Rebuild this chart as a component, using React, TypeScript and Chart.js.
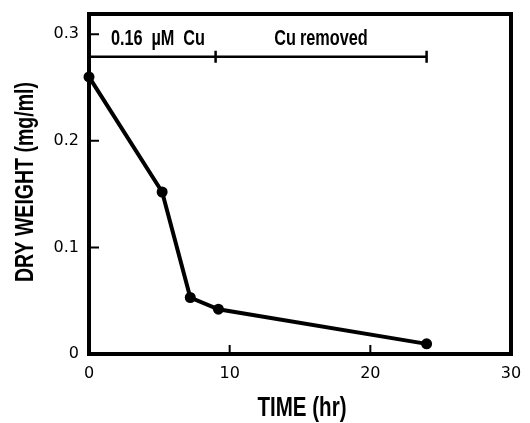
import React, { useEffect, useRef } from 'react';
import { Chart, registerables } from 'chart.js';

Chart.register(...registerables);

// ---- data ----
const TIME_HR = [0, 5.2, 7.2, 9.2, 24];
const DRY_WEIGHT = [0.26, 0.152, 0.053, 0.042, 0.0095];
const X_TICKS = [0, 10, 20, 30];
const Y_TICKS = [0, 0.1, 0.2, 0.3];
const Y_TICK_LABELS = ['0', '0.1', '0.2', '0.3'];
const PHASE_BOUNDS = [0, 9, 24];
const PHASE_LABELS = ['0.16 \u00b5M Cu', 'Cu removed'];
const PHASE_LABEL_X = [4.9, 16.49];
const PHASE_BAR_Y = 0.279;
const PHASE_LABEL_Y = 0.2953;
const X_TITLE = 'TIME (hr)';
const Y_TITLE = 'DRY WEIGHT (mg/ml)';

const BOLD_FAMILY = "'Liberation Sans', Arial, sans-serif";
const TICK_FAMILY = "'DejaVu Sans', sans-serif";

function drawCondensed(
  ctx: CanvasRenderingContext2D,
  text: string,
  cx: number,
  cy: number,
  size: number,
  targetWidth: number,
  rotate: boolean
) {
  ctx.save();
  ctx.font = `bold ${size}px ${BOLD_FAMILY}`;
  ctx.textAlign = 'center';
  ctx.textBaseline = 'middle';
  const w = ctx.measureText(text).width;
  const sx = w > 0 ? targetWidth / w : 1;
  ctx.translate(cx, cy);
  if (rotate) ctx.rotate(-Math.PI / 2);
  ctx.scale(sx, 1);
  ctx.fillText(text, 0, 0);
  ctx.restore();
}

// condensed words, spread so the whole label fills targetWidth
function drawSpread(
  ctx: CanvasRenderingContext2D,
  text: string,
  cx: number,
  cy: number,
  size: number,
  sx: number,
  targetWidth: number
) {
  ctx.save();
  ctx.font = `bold ${size}px ${BOLD_FAMILY}`;
  ctx.textAlign = 'left';
  ctx.textBaseline = 'middle';
  const words = text.split(' ');
  const widths = words.map((w) => ctx.measureText(w).width * sx);
  const total = widths.reduce((a, b) => a + b, 0);
  const gap = words.length > 1 ? Math.max(4, (targetWidth - total) / (words.length - 1)) : 0;
  let x = cx - (total + gap * (words.length - 1)) / 2;
  words.forEach((w, i) => {
    ctx.save();
    ctx.translate(x, cy);
    ctx.scale(sx, 1);
    ctx.fillText(w, 0, 0);
    ctx.restore();
    x += widths[i] + gap;
  });
  ctx.restore();
}

const framePlugin = {
  id: 'frameAndAnnotations',
  beforeDatasetsDraw(chart: any) {
    const { ctx, chartArea } = chart;
    const xs = chart.scales.x;
    const ys = chart.scales.y;
    const { left, right, top, bottom } = chartArea;
    ctx.save();
    ctx.strokeStyle = '#000';
    ctx.fillStyle = '#000';
    // frame
    ctx.lineWidth = 4;
    ctx.strokeRect(left, top, right - left, bottom - top);
    // inward ticks
    ctx.lineWidth = 2;
    ctx.beginPath();
    X_TICKS.forEach((v) => {
      if (v === xs.min || v === xs.max) return;
      const px = xs.getPixelForValue(v);
      ctx.moveTo(px, bottom);
      ctx.lineTo(px, bottom - 9);
    });
    Y_TICKS.forEach((v) => {
      if (v === ys.min || v === ys.max) return;
      const py = ys.getPixelForValue(v);
      ctx.moveTo(left, py);
      ctx.lineTo(left + 10, py);
    });
    ctx.stroke();
    // phase bracket
    const by = ys.getPixelForValue(PHASE_BAR_Y);
    ctx.lineWidth = 2.5;
    ctx.beginPath();
    ctx.moveTo(xs.getPixelForValue(PHASE_BOUNDS[0]), by);
    ctx.lineTo(xs.getPixelForValue(PHASE_BOUNDS[PHASE_BOUNDS.length - 1]), by);
    PHASE_BOUNDS.slice(1).forEach((v) => {
      const px = xs.getPixelForValue(v);
      ctx.moveTo(px, by - 6);
      ctx.lineTo(px, by + 6);
    });
    ctx.stroke();
    ctx.restore();
    // phase labels
    const ly = ys.getPixelForValue(PHASE_LABEL_Y);
    ctx.fillStyle = '#000';
    const phaseWidths = [94, 92];
    PHASE_LABELS.forEach((t, i) => {
      drawSpread(ctx, t, xs.getPixelForValue(PHASE_LABEL_X[i]), ly, 22, 0.74, phaseWidths[i]);
    });
    // axis titles
    const cxTitle = (left + right) / 2 + 2;
    drawCondensed(ctx, X_TITLE, cxTitle, 409, 27, 89, false);
    drawCondensed(ctx, Y_TITLE, 26, (top + bottom) / 2 - 2, 25, 200, true);
  },
};

export default function App() {
  const ref = useRef<HTMLCanvasElement | null>(null);

  useEffect(() => {
    document.body.style.margin = '0';
    const canvas = ref.current;
    if (!canvas) return;
    const chart = new Chart(canvas, {
      type: 'line',
      data: {
        datasets: [
          {
            data: TIME_HR.map((x, i) => ({ x, y: DRY_WEIGHT[i] })),
            borderColor: '#000',
            backgroundColor: '#000',
            borderWidth: 4,
            pointRadius: 5.5,
            pointBorderWidth: 0,
            pointBackgroundColor: '#000',
            tension: 0,
            clip: false as any,
          },
        ],
      },
      options: {
        responsive: false,
        animation: false,
        layout: { padding: { top: 14, right: 19, bottom: 0, left: 0 } },
        plugins: { legend: { display: false }, tooltip: { enabled: false } },
        scales: {
          x: {
            type: 'linear',
            min: 0,
            max: 30,
            grid: { display: false, drawTicks: false },
            border: { display: false },
            afterBuildTicks: (s: any) => {
              s.ticks = X_TICKS.map((v) => ({ value: v }));
            },
            afterFit: (s: any) => {
              s.height = 69;
              s.paddingLeft = 0;
              s.paddingRight = 0;
              s.paddingTop = 0;
              s.paddingBottom = 0;
            },
            ticks: {
              color: '#000',
              padding: 10,
              maxRotation: 0,
              font: { family: TICK_FAMILY, size: 16 },
              callback: (v: any) => String(v),
            },
            title: { display: false },
          },
          y: {
            type: 'linear',
            min: 0,
            max: 0.319,
            grid: { display: false, drawTicks: false },
            border: { display: false },
            afterBuildTicks: (s: any) => {
              s.ticks = Y_TICKS.map((v) => ({ value: v }));
            },
            afterFit: (s: any) => {
              s.width = 89;
              s.paddingLeft = 0;
              s.paddingRight = 0;
              s.paddingTop = 0;
              s.paddingBottom = 0;
            },
            ticks: {
              color: '#000',
              padding: 10,
              font: { family: TICK_FAMILY, size: 16 },
              callback: (_v: any, i: number) => Y_TICK_LABELS[i],
            },
            title: { display: false },
          },
        },
      },
      plugins: [framePlugin],
    } as any);
    return () => chart.destroy();
  }, []);

  return (
    <div style={{ width: 530, height: 423 }}>
      <canvas ref={ref} width={530} height={423} style={{ display: 'block' }} />
    </div>
  );
}
